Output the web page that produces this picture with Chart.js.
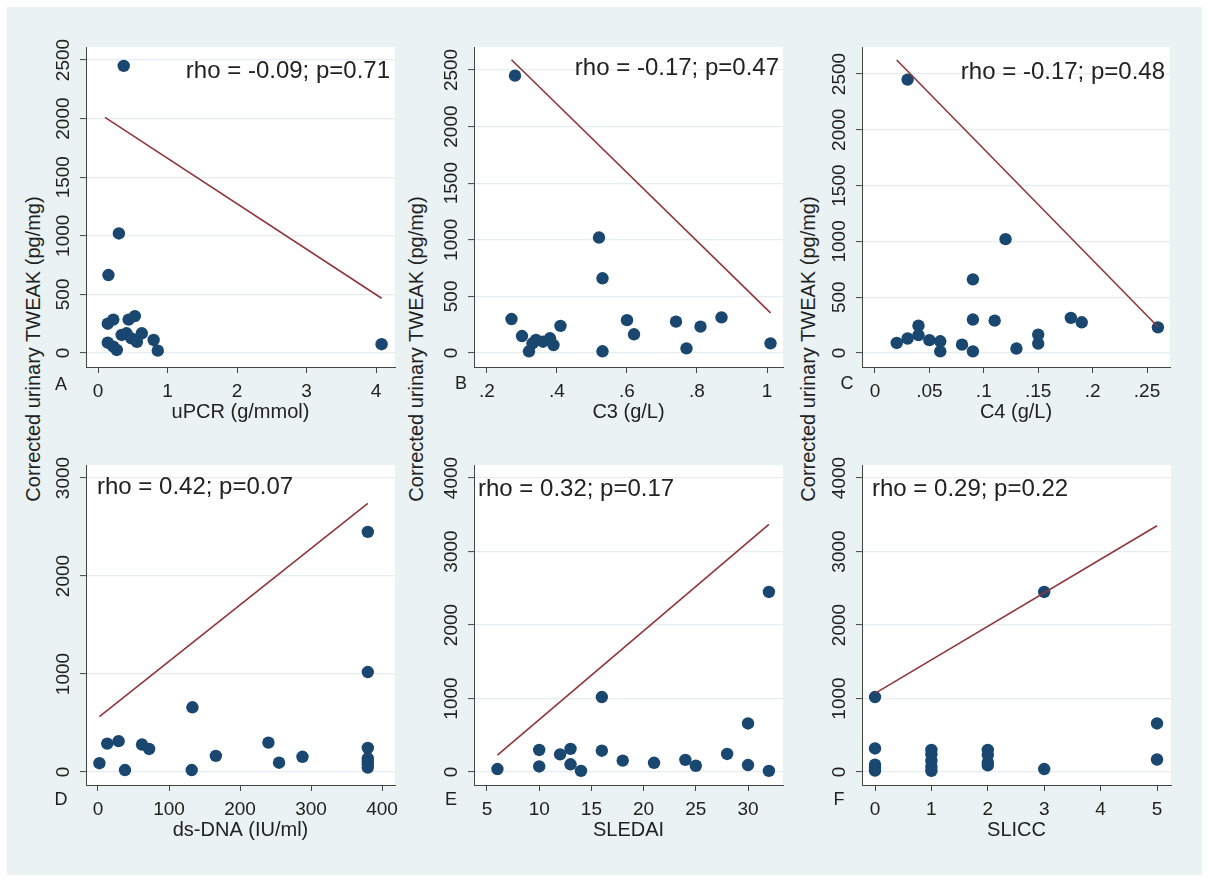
<!DOCTYPE html>
<html>
<head>
<meta charset="utf-8">
<script src="https://cdn.jsdelivr.net/npm/chart.js@4.4.0/dist/chart.umd.min.js"></script>
<style>
  body { margin: 0; width: 1209px; height: 882px; position: relative; overflow: hidden; background: #fff; font-family: "Liberation Sans", Arial, sans-serif; }
  #bg { position: absolute; left: 7px; top: 7px; width: 1195px; height: 868px; background: #eaf2f3; }
  canvas { position: absolute; }
  .ytitle { position: absolute; font-size: 20px; color: #222; white-space: nowrap; transform: translate(-50%, -50%) rotate(-90deg); }
</style>
</head>
<body>
<div id="bg"></div>
<div class="ytitle" style="left:33px;top:349px">Corrected urinary TWEAK (pg/mg)</div>
<div class="ytitle" style="left:416px;top:349px">Corrected urinary TWEAK (pg/mg)</div>
<div class="ytitle" style="left:808px;top:349px">Corrected urinary TWEAK (pg/mg)</div>
<script>
// values
const uPCR   = [0.37, 0.30, 0.15, 4.08, 0.14, 0.22, 0.44, 0.53, 0.14, 0.22, 0.27, 0.34, 0.41, 0.48, 0.56, 0.63, 0.80, 0.86];
const tweakA = [2450, 1020, 665, 75, 250, 285, 285, 315, 88, 54, 26, 154, 168, 125, 96, 168, 111, 20];
const fitA_x = [0.10, 4.08];
const fitA_y = [2010, 467];

const c3     = [0.28, 0.27, 0.30, 0.32, 0.33, 0.34, 0.36, 0.38, 0.39, 0.41, 0.52, 0.53, 0.53, 0.60, 0.62, 0.74, 0.77, 0.81, 0.87, 1.01];
const tweakB = [2450, 300, 150, 15, 85, 115, 100, 130, 70, 240, 1020, 660, 15, 290, 165, 277, 41, 233, 315, 85];
const fitB_x = [0.27, 1.01];
const fitB_y = [2590, 355];

const c4     = [0.03, 0.12, 0.09, 0.09, 0.11, 0.18, 0.19, 0.26, 0.15, 0.15, 0.13, 0.09, 0.08, 0.02, 0.03, 0.04, 0.04, 0.05, 0.06, 0.06];
const tweakC = [2450, 1020, 660, 300, 290, 315, 275, 230, 165, 85, 40, 15, 75, 90, 130, 245, 160, 115, 105, 15];
const fitC_x = [0.02, 0.26];
const fitC_y = [2625, 235];

const dsDNA  = [380, 380, 133, 2, 13, 29, 38, 62, 72, 132, 166, 240, 255, 288, 380, 380, 380, 380, 380];
const tweakD = [2450, 1020, 660, 90, 290, 315, 20, 280, 235, 20, 165, 300, 95, 155, 245, 140, 110, 80, 45];
const fitD_x = [2, 380];
const fitD_y = [565, 2740];

const sledai = [6, 10, 10, 12, 13, 13, 14, 16, 16, 18, 21, 24, 25, 28, 30, 30, 32, 32];
const tweakE = [40, 300, 75, 240, 315, 105, 15, 1020, 290, 155, 125, 165, 85, 245, 660, 95, 2450, 15];
const fitE_x = [6, 32];
const fitE_y = [230, 3370];

const slicc  = [0, 0, 0, 0, 0, 1, 1, 1, 1, 1, 2, 2, 2, 2, 3, 3, 5, 5];
const tweakF = [1020, 320, 100, 60, 20, 300, 240, 150, 75, 15, 300, 230, 130, 90, 2450, 40, 660, 170];
const fitF_x = [0, 5];
const fitF_y = [1070, 3350];

// tick values and labels
const uPCRTicks = [0, 1, 2, 3, 4];
const uPCRTickLabels = ["0", "1", "2", "3", "4"];
const c3Ticks = [0.2, 0.4, 0.6, 0.8, 1];
const c3TickLabels = [".2", ".4", ".6", ".8", "1"];
const c4Ticks = [0, 0.05, 0.1, 0.15, 0.2, 0.25];
const c4TickLabels = ["0", ".05", ".1", ".15", ".2", ".25"];
const dsDNATicks = [0, 100, 200, 300, 400];
const dsDNATickLabels = ["0", "100", "200", "300", "400"];
const sledaiTicks = [5, 10, 15, 20, 25, 30];
const sledaiTickLabels = ["5", "10", "15", "20", "25", "30"];
const sliccTicks = [0, 1, 2, 3, 4, 5];
const sliccTickLabels = ["0", "1", "2", "3", "4", "5"];

const yTicksTop = [0, 500, 1000, 1500, 2000, 2500];
const yTicksD = [0, 1000, 2000, 3000];
const yTicksEF = [0, 1000, 2000, 3000, 4000];

const xTitles = ["uPCR (g/mmol)", "C3 (g/L)", "C4 (g/L)", "ds-DNA (IU/ml)", "SLEDAI", "SLICC"];
const rhoLabels = ["rho = -0.09; p=0.71", "rho = -0.17; p=0.47", "rho = -0.17; p=0.48",
                   "rho = 0.42; p=0.07", "rho = 0.32; p=0.17", "rho = 0.29; p=0.22"];
const panelLetters = ["A", "B", "C", "D", "E", "F"];

const NAVY = "#1a476f";
const MAROON = "#90353b";
const TEXT = "#222";
const AXIS = "#444";

Chart.defaults.font.family = '"Liberation Sans", Arial, sans-serif';

function zip(xs, ys) {
  return xs.map((x, i) => ({ x: x, y: ys[i] }));
}

// layout of each panel (plot box in page pixels, axis range)
const panels = [
  { xs: uPCR, ys: tweakA, fx: fitA_x, fy: fitA_y, xt: uPCRTicks, xl: uPCRTickLabels, yt: yTicksTop,
    box: { l: 86, t: 47, r: 395, b: 367 }, xr: [-0.173, 4.273], yr: [-119.5, 2611],
    rho: { right: true, dx: 5, dy: 24 }, let: { dx: -25, dy: 18 } },
  { xs: c3, ys: tweakB, fx: fitB_x, fy: fitB_y, xt: c3Ticks, xl: c3TickLabels, yt: yTicksTop,
    box: { l: 474, t: 47, r: 783, b: 367 }, xr: [0.1629, 1.0457], yr: [-123.7, 2703],
    rho: { right: true, dx: 4, dy: 21 }, let: { dx: -13, dy: 17 } },
  { xs: c4, ys: tweakC, fx: fitC_x, fy: fitC_y, xt: c4Ticks, xl: c4TickLabels, yt: yTicksTop,
    box: { l: 862, t: 47, r: 1170, b: 367 }, xr: [-0.0119, 0.2711], yr: [-125.4, 2742],
    rho: { right: true, dx: 5, dy: 25 }, let: { dx: -15, dy: 17 } },
  { xs: dsDNA, ys: tweakD, fx: fitD_x, fy: fitD_y, xt: dsDNATicks, xl: dsDNATickLabels, yt: yTicksD,
    box: { l: 86, t: 465, r: 395, b: 785 }, xr: [-16.9, 418.3], yr: [-132.7, 3132.7],
    rho: { right: false, dx: 11, dy: 22 }, let: { dx: -25, dy: 15 } },
  { xs: sledai, ys: tweakE, fx: fitE_x, fy: fitE_y, xt: sledaiTicks, xl: sledaiTickLabels, yt: yTicksEF,
    box: { l: 474, t: 465, r: 783, b: 785 }, xr: [3.755, 33.35], yr: [-176.9, 4176.9],
    rho: { right: false, dx: 4, dy: 24 }, let: { dx: -23, dy: 15 } },
  { xs: slicc, ys: tweakF, fx: fitF_x, fy: fitF_y, xt: sliccTicks, xl: sliccTickLabels, yt: yTicksEF,
    box: { l: 862, t: 465, r: 1171, b: 785 }, xr: [-0.2305, 5.248], yr: [-176.9, 4176.9],
    rho: { right: false, dx: 10, dy: 24 }, let: { dx: -23, dy: 15 } }
];

const Y_AXIS_W = 60;
const X_AXIS_H = 57;
const PAD_T = 12;
const PAD_R = 12;

const decor = {
  id: "decor",
  beforeDraw(chart) {
    const a = chart.chartArea;
    const ctx = chart.ctx;
    ctx.save();
    ctx.fillStyle = "#fff";
    ctx.fillRect(a.left, a.top, a.right - a.left, a.bottom - a.top);
    ctx.restore();
  },
  afterDraw(chart, args, o) {
    const a = chart.chartArea;
    const ctx = chart.ctx;
    const ys = chart.scales.y;
    ctx.save();
    ctx.fillStyle = TEXT;

    // rotated y tick labels, as in Stata
    ctx.font = '19px "Liberation Sans", Arial, sans-serif';
    ctx.textAlign = "center";
    ctx.textBaseline = "middle";
    ys.ticks.forEach(t => {
      const py = ys.getPixelForValue(t.value);
      ctx.save();
      ctx.translate(a.left - 22, py);
      ctx.rotate(-Math.PI / 2);
      ctx.fillText(String(t.value), 0, 0);
      ctx.restore();
    });

    // rho annotation
    ctx.font = '24px "Liberation Sans", Arial, sans-serif';
    ctx.textAlign = o.rho.right ? "right" : "left";
    ctx.fillText(o.rhoText, o.rho.right ? a.right - o.rho.dx : a.left + o.rho.dx, a.top + o.rho.dy);

    // panel letter
    ctx.font = '18px "Liberation Sans", Arial, sans-serif';
    ctx.textAlign = "center";
    ctx.fillText(o.letter, a.left + o.let.dx, a.bottom + o.let.dy);
    ctx.restore();
  }
};

panels.forEach((p, i) => {
  const w = Y_AXIS_W + (p.box.r - p.box.l) + PAD_R;
  const h = PAD_T + (p.box.b - p.box.t) + X_AXIS_H;
  const canvas = document.createElement("canvas");
  canvas.width = w;
  canvas.height = h;
  canvas.style.left = (p.box.l - Y_AXIS_W) + "px";
  canvas.style.top = (p.box.t - PAD_T) + "px";
  document.body.appendChild(canvas);

  new Chart(canvas, {
    type: "scatter",
    data: {
      datasets: [
        {
          type: "line",
          data: zip(p.fx, p.fy),
          borderColor: MAROON,
          borderWidth: 1.6,
          pointRadius: 0,
          fill: false,
          order: 0
        },
        {
          data: zip(p.xs, p.ys),
          backgroundColor: NAVY,
          borderWidth: 0,
          pointRadius: 6.2,
          order: 1
        }
      ]
    },
    options: {
      responsive: false,
      animation: false,
      devicePixelRatio: 1,
      layout: { padding: { top: PAD_T, right: PAD_R, bottom: 0, left: 0 } },
      plugins: {
        legend: { display: false },
        tooltip: { enabled: false },
        decor: { rhoText: rhoLabels[i], letter: panelLetters[i], rho: p.rho, let: p.let }
      },
      scales: {
        x: {
          type: "linear",
          min: p.xr[0],
          max: p.xr[1],
          afterBuildTicks: s => { s.ticks = p.xt.map(v => ({ value: v })); },
          afterFit: s => { s.height = X_AXIS_H; },
          ticks: {
            callback: (v, k) => p.xl[k],
            font: { size: 19 },
            color: TEXT,
            padding: 7,
            autoSkip: false,
            maxRotation: 0
          },
          grid: { drawOnChartArea: false, tickLength: 6, tickColor: AXIS },
          border: { color: AXIS, width: 1 },
          title: { display: true, text: xTitles[i], font: { size: 20 }, color: TEXT, padding: 0 }
        },
        y: {
          type: "linear",
          min: p.yr[0],
          max: p.yr[1],
          afterBuildTicks: s => { s.ticks = p.yt.map(v => ({ value: v })); },
          afterFit: s => { s.width = Y_AXIS_W; },
          ticks: { display: false },
          grid: { color: "#e6edf0", lineWidth: 1.2, tickLength: 6, tickColor: AXIS, tickWidth: 1 },
          border: { color: AXIS, width: 1 }
        }
      }
    },
    plugins: [decor]
  });
});
</script>
</body>
</html>
